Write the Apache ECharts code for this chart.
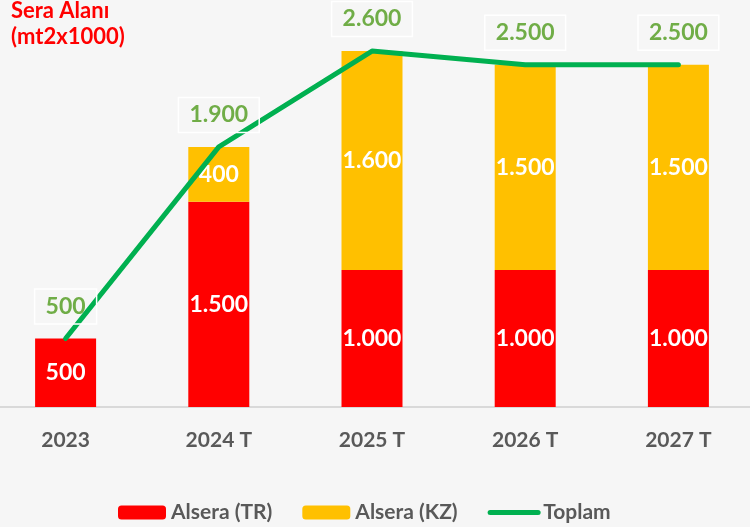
<!DOCTYPE html>
<html>
<head>
<meta charset="utf-8">
<script src="https://cdn.jsdelivr.net/npm/echarts@6/dist/echarts.min.js"></script>
<style>
  html, body { margin: 0; padding: 0; background: #f6f6f6; overflow: hidden; }
  #chart { width: 766px; height: 527px; margin-left: -11px; }
</style>
</head>
<body>
<div id="chart"></div>
<script>
// kategoriler ve seriler
var years = ['2023', '2024 T', '2025 T', '2026 T', '2027 T'];
var alseraTR = [500, 1500, 1000, 1000, 1000];
var alseraKZ = [null, 400, 1600, 1500, 1500];
var toplam = [500, 1900, 2600, 2500, 2500];

var fontName = 'Lato, "Open Sans", sans-serif';

function trNum(p) {
    return p.value.toLocaleString('tr-TR');
}

var myChart = echarts.init(document.getElementById('chart'));

var option = {
    backgroundColor: '#f6f6f6',
    textStyle: { fontFamily: fontName },
    title: {
        text: 'Sera Alanı\n(mt2x1000)',
        left: 22,
        top: -2,
        padding: [0, 0],
        textStyle: {
            color: '#ff0000',
            fontSize: 22,
            fontWeight: 'bold',
            lineHeight: 26,
            fontFamily: fontName
        }
    },
    legend: {
        top: 497,
        left: 124,
        itemWidth: 48,
        itemHeight: 14,
        itemGap: 30,
        data: [
            'Alsera (TR)',
            'Alsera (KZ)',
            { name: 'Toplam', itemStyle: { opacity: 0 }, lineStyle: { width: 5, cap: 'round' } }
        ],
        textStyle: {
            color: '#595959',
            fontSize: 21,
            fontWeight: 'bold',
            fontFamily: fontName
        }
    },
    grid: {
        left: 0,
        right: 0,
        top: 10,
        bottom: 120,
        containLabel: false
    },
    xAxis: {
        type: 'category',
        data: years,
        axisLine: { lineStyle: { color: '#d9d9d9', width: 2 } },
        axisTick: { show: false },
        axisLabel: {
            color: '#595959',
            fontSize: 21,
            fontWeight: 'bold',
            margin: 23,
            fontFamily: fontName
        }
    },
    yAxis: {
        type: 'value',
        min: 0,
        max: 2900,
        show: false,
        splitLine: { show: false }
    },
    series: [
        {
            name: 'Alsera (TR)',
            type: 'bar',
            stack: 'alsera',
            barWidth: 61,
            itemStyle: { color: '#ff0000' },
            label: {
                show: true,
                position: 'inside',
                color: '#fff',
                fontSize: 23,
                fontWeight: 'bold',
                fontFamily: fontName,
                formatter: trNum
            },
            data: alseraTR
        },
        {
            name: 'Alsera (KZ)',
            type: 'bar',
            stack: 'alsera',
            barWidth: 61,
            itemStyle: { color: '#ffc000' },
            label: {
                show: true,
                position: 'inside',
                color: '#fff',
                fontSize: 23,
                fontWeight: 'bold',
                fontFamily: fontName,
                formatter: trNum
            },
            data: alseraKZ
        },
        {
            name: 'Toplam',
            type: 'line',
            symbol: 'circle',
            symbolSize: 1,
            showSymbol: true,
            z: 5,
            lineStyle: { color: '#00b050', width: 5, cap: 'round', join: 'round' },
            itemStyle: { color: '#00b050' },
            label: {
                show: true,
                position: 'top',
                distance: 14,
                color: '#70ad47',
                fontSize: 23,
                fontWeight: 'bold',
                fontFamily: fontName,
                borderColor: '#ffffff',
                borderWidth: 1.5,
                padding: [6, 11, 6, 11],
                formatter: trNum
            },
            data: toplam
        }
    ]
};

myChart.setOption(option);
</script>
</body>
</html>
